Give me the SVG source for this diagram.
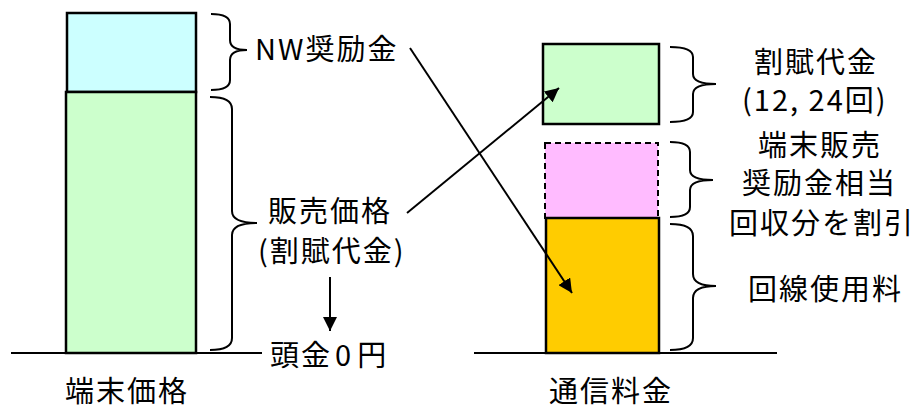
<svg xmlns="http://www.w3.org/2000/svg" width="915" height="409" viewBox="0 0 915 409">
<defs>
<marker id="ah" viewBox="0 0 10 10" refX="10" refY="5" markerWidth="14" markerHeight="14" markerUnits="userSpaceOnUse" orient="auto">
<path d="M0,0 L10,5 L0,10 z" fill="#000"/>
</marker>
<style>
.t{font-family:"Noto Sans CJK JP","Noto Sans",sans-serif;font-size:29px;fill:#000;letter-spacing:2px}
.bar{stroke:#000;stroke-width:2.5}
.br{fill:none;stroke:#000;stroke-width:2}
.ln{stroke:#000;stroke-width:2;fill:none}
</style>
</defs>
<rect width="915" height="409" fill="#fff"/>
<g id="base-left"><line class="ln" x1="11" y1="353" x2="262" y2="353"/></g>
<g id="base-right"><line class="ln" x1="474" y1="353" x2="777" y2="353"/></g>
<g id="nw-bar"><rect class="bar" x="67" y="13" width="129" height="79" fill="#ccffff"/></g>
<g id="price-bar"><rect class="bar" x="66" y="92" width="130" height="261" fill="#ccffcc"/></g>
<g id="installment-bar"><rect class="bar" x="543" y="44" width="116" height="80" fill="#ccffcc"/></g>
<g id="discount-bar"><rect x="545" y="143" width="113" height="75" fill="#ffbbff" stroke="#000" stroke-width="2" stroke-dasharray="6,4"/></g>
<g id="line-bar"><rect class="bar" x="546" y="218" width="113" height="135" fill="#ffcc00"/></g>
<g id="braces">
<path class="br" d="M211,14 Q230,14 230,24 L230,40 Q230,50 247,50 Q230,50 230,60 L230,80 Q230,90 211,90"/>
<path class="br" d="M210,97 Q232,97 232,109 L232,211 Q232,223 257,223 Q232,223 232,235 L232,338 Q232,350 210,350"/>
<path class="br" d="M670,47 Q693,47 693,57 L693,74 Q693,84 716,84 Q693,84 693,94 L693,112 Q693,122 670,122"/>
<path class="br" d="M670,142 Q690,142 690,152 L690,170 Q690,180 713,180 Q690,180 690,190 L690,207 Q690,217 670,217"/>
<path class="br" d="M670,224 Q693,224 693,236 L693,274 Q693,286 716,286 Q693,286 693,298 L693,338 Q693,350 670,350"/>
</g>
<g id="labels">
<text class="t" x="255" y="60">NW奨励金</text>
<text class="t" x="268" y="222">販売価格</text>
<text class="t" x="258" y="262">(割賦代金)</text>
<text class="t" x="270" y="366">頭金<tspan dx="3">0</tspan><tspan dx="4">円</tspan></text>
<text class="t" x="65" y="402">端末価格</text>
<text class="t" x="754" y="73">割賦代金</text>
<text class="t" x="742" y="111">(12, 24回)</text>
<text class="t" x="758" y="156">端末販売</text>
<text class="t" x="742" y="194">奨励金相当</text>
<text class="t" x="729" y="234">回収分を割引</text>
<text class="t" x="748" y="300">回線使用料</text>
<text class="t" x="549" y="402">通信料金</text>
</g>
<g id="connectors">
<line class="ln" x1="410" y1="48" x2="572" y2="293" marker-end="url(#ah)"/>
<line class="ln" x1="407" y1="213" x2="559" y2="88" marker-end="url(#ah)"/>
<line class="ln" x1="330" y1="277" x2="330" y2="331" marker-end="url(#ah)"/>
</g>
</svg>
